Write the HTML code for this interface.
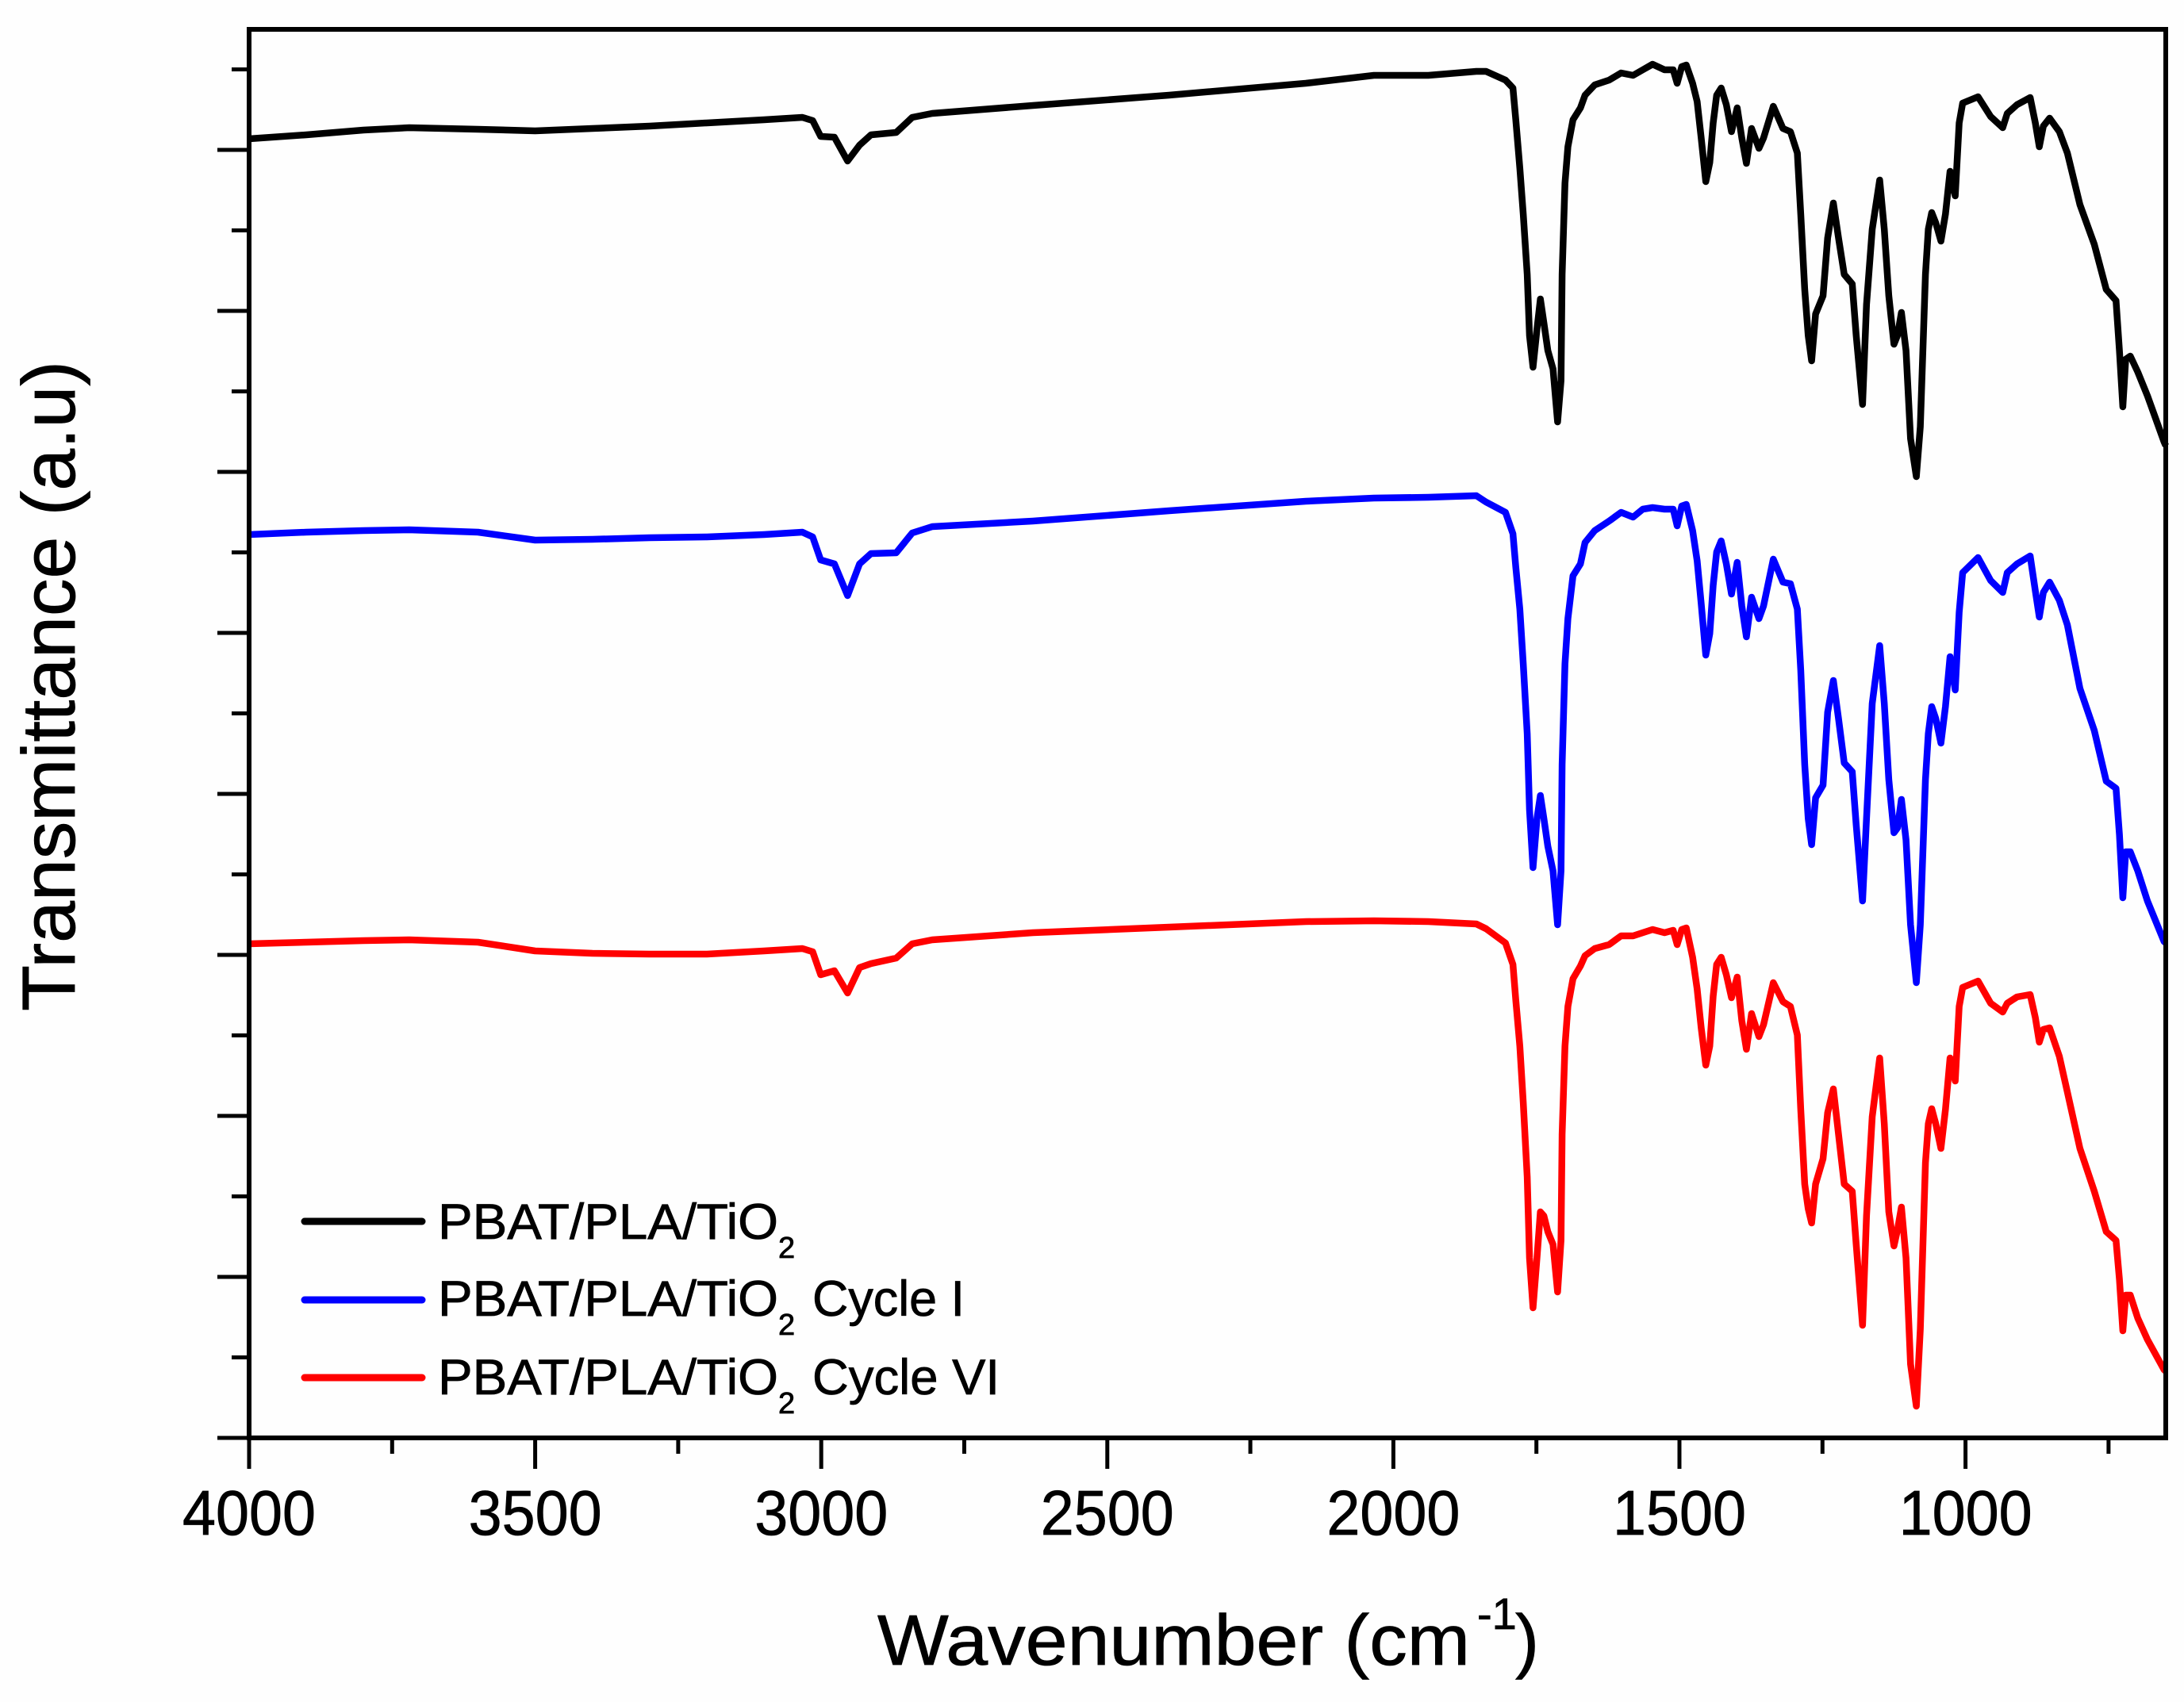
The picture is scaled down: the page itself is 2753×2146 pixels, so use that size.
<!DOCTYPE html>
<html lang="en">
<head>
<meta charset="utf-8">
<title>FTIR spectra of PBAT/PLA/TiO2</title>
<style>
html,body{margin:0;padding:0;background:#fff;}
svg{display:block;}
text{font-family:"Liberation Sans",Arial,sans-serif;fill:#000;stroke:#000;stroke-width:0.8px;}
</style>
</head>
<body>
<svg id="chart" xmlns="http://www.w3.org/2000/svg" width="2753" height="2146" viewBox="0 0 2753 2146">
  <rect x="0" y="0" width="2753" height="2146" fill="#fefefe"/>
  <g id="ticks"></g>
  <g id="series"></g>
  <rect id="frame" fill="none" stroke="#000" stroke-width="6"/>
  <g id="x-labels"></g>

  <text x="1106" y="2099" font-size="90" textLength="747" lengthAdjust="spacingAndGlyphs">Wavenumber (cm</text>
  <text x="1862" y="2054" font-size="56">-1</text>
  <text x="1910" y="2099" font-size="90">)</text>
  <text transform="translate(94 1275) rotate(-90)" x="0" y="0" font-size="95" textLength="820" lengthAdjust="spacingAndGlyphs">Transmittance (a.u)</text>

  <g>
    <line x1="384" x2="532" y1="1540" y2="1540" stroke="#000" stroke-width="9" stroke-linecap="round"/>
    <text x="552" y="1562" font-size="63"><tspan textLength="429" lengthAdjust="spacingAndGlyphs">PBAT/PLA/TiO</tspan><tspan font-size="38" dy="24">2</tspan></text>
    <line x1="384" x2="532" y1="1639" y2="1639" stroke="#0000ff" stroke-width="9" stroke-linecap="round"/>
    <text x="552" y="1659" font-size="63"><tspan textLength="429" lengthAdjust="spacingAndGlyphs">PBAT/PLA/TiO</tspan><tspan font-size="38" dy="24">2</tspan></text>
    <text x="1024" y="1659" font-size="63" textLength="192" lengthAdjust="spacingAndGlyphs">Cycle I</text>
    <line x1="384" x2="532" y1="1737" y2="1737" stroke="#ff0000" stroke-width="9" stroke-linecap="round"/>
    <text x="552" y="1758" font-size="63"><tspan textLength="429" lengthAdjust="spacingAndGlyphs">PBAT/PLA/TiO</tspan><tspan font-size="38" dy="24">2</tspan></text>
    <text x="1024" y="1758" font-size="63" textLength="236" lengthAdjust="spacingAndGlyphs">Cycle VI</text>
  </g>
</svg>
<script>
var wavenumbers = [4000,3900,3800,3720,3600,3500,3400,3300,3200,3100,3033,3015,3001,2977,2954,2933,2913,2869,2841,2806,2630,2392,2153,2034,
1939,1855,1838,1804,1791,1786,1779,1773,1766,1762,1756,1749,1743,1737,1730,1721,1713,1707,1705,1700,1695,1686,1673,1665,1648,1623,1602,1581,1564,1547,1526,1511,1504,1496,1488,1477,1469,1462,1454,1447,1441,1435,1427,1418,1409,1399,1391,1383,1374,1361,1353,1336,1319,1306,1294,1288,1281,1275,1269,1262,1249,1241,1231,1222,1212,1198,1191,1180,1173,1163,1150,1142,1134,1125,1119,1112,1104,1096,1086,1079,1070,1065,1059,1052,1043,1035,1027,1018,1011,1005,978,956,935,927,910,887,878,871,864,853,836,822,800,775,754,737,731,725,720,712,699,682,653,650];

var pristine = [163.8,164.3,164.9,165.2,165.0,164.8,165.1,165.4,165.8,166.2,166.5,166.1,164.1,164.0,161.0,163.0,164.3,164.6,166.5,167.0,168.0,169.3,170.8,171.8,
171.8,172.3,172.3,171.2,170.2,166.2,160.1,154.3,146.7,139.0,135.0,139.8,143.6,140.6,137.1,134.8,128.1,133.3,146.7,158.2,162.8,166.2,167.7,169.3,170.6,171.2,172.1,171.8,172.5,173.2,172.5,172.5,170.8,172.9,173.1,170.8,168.5,163.9,158.4,160.8,165.8,169.3,170.2,168.1,164.7,167.7,163.9,160.7,165.1,162.6,163.9,167.9,165.1,164.7,162.0,154.3,144.8,139.0,135.8,141.7,144.0,151.3,155.7,151.3,146.7,145.5,139.0,130.3,142.9,152.4,158.6,152.4,144.0,137.9,139.0,141.9,137.1,126.0,121.2,127.5,146.7,152.4,154.5,153.2,150.9,154.3,159.7,156.6,165.8,168.3,169.1,166.6,165.2,167.0,168.1,169.0,165.8,162.8,165.4,166.4,164.7,162.0,155.5,150.5,144.8,143.4,137.1,130.0,136.0,136.4,134.4,131.4,125.6,125.1];

var cycleOne = [113.9,114.2,114.4,114.5,114.2,113.2,113.3,113.5,113.6,113.9,114.2,113.6,110.7,110.2,106.2,110.2,111.5,111.6,114.1,114.9,115.6,116.9,118.1,118.5,
118.6,118.8,118.0,116.7,114.0,109.8,104.5,97.6,88.8,79.2,71.9,78.1,81.0,78.1,74.6,71.5,64.7,71.5,84.9,97.6,103.3,108.7,110.2,112.9,114.4,115.6,116.7,116.1,117.1,117.3,117.1,117.1,115.0,117.5,117.7,114.4,110.6,105.2,98.7,101.4,107.5,111.7,113.1,110.2,106.4,110.4,104.9,101.0,106.0,103.3,104.9,110.8,107.9,107.7,104.5,96.8,84.9,78.1,74.8,80.7,82.3,91.5,95.5,90.7,85.1,84.0,77.3,67.7,78.1,92.6,99.9,92.6,83.0,76.3,76.9,80.5,75.4,64.7,57.4,64.7,83.0,88.8,92.2,90.7,87.6,92.2,98.5,94.3,104.1,109.1,111.0,108.1,106.6,109.1,110.2,111.2,106.8,103.5,106.6,107.9,105.6,102.5,94.5,89.2,82.8,81.9,76.1,68.1,73.9,73.9,71.5,67.7,62.6,62.4];

var cycleSix = [62.3,62.5,62.7,62.8,62.5,61.4,61.1,61.0,61.0,61.4,61.7,61.3,58.4,58.9,56.1,59.3,59.8,60.5,62.3,62.8,63.7,64.4,65.1,65.2,
65.1,64.8,64.2,62.4,59.7,55.2,49.4,42.3,32.9,22.7,16.4,22.7,28.5,28.0,26.0,24.4,18.4,24.9,38.3,49.4,54.4,57.9,59.5,60.8,61.7,62.2,63.3,63.3,63.7,64.1,63.7,64.0,62.2,64.1,64.3,60.6,56.6,51.7,47.0,49.4,55.7,59.7,60.6,58.4,55.5,58.1,52.6,49.0,53.5,50.6,52.1,57.4,55.0,54.4,50.8,41.4,32.0,28.9,27.1,32.0,35.2,41.0,44.0,38.3,32.0,31.1,24.4,14.2,28.0,40.5,47.9,39.6,28.5,24.2,26.2,29.1,22.7,9.3,4.0,13.7,34.7,39.6,41.5,39.6,36.5,41.4,47.9,45.0,54.4,56.8,57.6,54.8,53.7,54.8,55.6,55.9,53.0,49.9,51.5,51.7,48.1,43.6,36.5,31.1,26.0,24.9,20.0,13.5,18.0,18.0,15.1,12.4,8.6,8.4];

var xMajorTicks = [4000,3500,3000,2500,2000,1500,1000];
var xMinorTicks = [3750,3250,2750,2250,1750,1250,750];
var xTickLabels = ["4000","3500","3000","2500","2000","1500","1000"];
var yMajorTicks = [0,20.3,40.6,60.9,81.2,101.5,121.8,142.1,162.4];
var yMinorTicks = [10.15,30.45,50.75,71.05,91.35,111.65,131.95,152.25,172.55];

var SVGNS = 'http://www.w3.org/2000/svg';
var xDomain = [4000, 650];
var yDomain = [0, 177.6];
var plot = {left: 314, right: 2730, bottom: 1813, top: 37};

function xScale(w){ return plot.left + (xDomain[0] - w) / (xDomain[0] - xDomain[1]) * (plot.right - plot.left); }
function yScale(v){ return plot.bottom - (v - yDomain[0]) / (yDomain[1] - yDomain[0]) * (plot.bottom - plot.top); }

var frame = document.getElementById('frame');
frame.setAttribute('x', plot.left);
frame.setAttribute('y', plot.top);
frame.setAttribute('width', plot.right - plot.left);
frame.setAttribute('height', plot.bottom - plot.top);

var tickGroup = document.getElementById('ticks');
function tick(x1, y1, x2, y2, w, name){
  var l = document.createElementNS(SVGNS, 'line');
  l.setAttribute('x1', x1); l.setAttribute('y1', y1);
  l.setAttribute('x2', x2); l.setAttribute('y2', y2);
  l.setAttribute('stroke', '#000'); l.setAttribute('stroke-width', w);
  
  
  tickGroup.appendChild(l);
}
xMajorTicks.forEach(function(w){ tick(xScale(w), plot.bottom, xScale(w), plot.bottom + 39, 5, 'x-major-tick'); });
xMinorTicks.forEach(function(w){ tick(xScale(w), plot.bottom, xScale(w), plot.bottom + 20, 5, 'x-minor-tick'); });
yMajorTicks.forEach(function(v){ tick(plot.left, yScale(v), plot.left - 40, yScale(v), 5, 'y-major-tick'); });
yMinorTicks.forEach(function(v){ tick(plot.left, yScale(v), plot.left - 22, yScale(v), 5, 'y-minor-tick'); });

var labelGroup = document.getElementById('x-labels');
xMajorTicks.forEach(function(w, i){
  var t = document.createElementNS(SVGNS, 'text');
  t.setAttribute('x', xScale(w) - 84);
  t.setAttribute('y', 1935);
  t.setAttribute('font-size', '80');
  t.setAttribute('textLength', '168');
  t.setAttribute('lengthAdjust', 'spacingAndGlyphs');
  
  
  t.textContent = xTickLabels[i];
  labelGroup.appendChild(t);
});

var seriesGroup = document.getElementById('series');
function drawSeries(values, color, name){
  var p = document.createElementNS(SVGNS, 'path');
  var d = '';
  for (var i = 0; i < wavenumbers.length; i++) {
    d += (i ? 'L' : 'M') + xScale(wavenumbers[i]).toFixed(1) + ' ' + yScale(values[i]).toFixed(1);
  }
  p.setAttribute('d', d);
  p.setAttribute('fill', 'none');
  p.setAttribute('stroke', color);
  p.setAttribute('stroke-width', '8.5');
  p.setAttribute('stroke-linejoin', 'round');
  
  
  seriesGroup.appendChild(p);
}
drawSeries(pristine, '#000000', 'series-pristine');
drawSeries(cycleOne, '#0000ff', 'series-cycle-1');
drawSeries(cycleSix, '#ff0000', 'series-cycle-6');
</script>
</body>
</html>
